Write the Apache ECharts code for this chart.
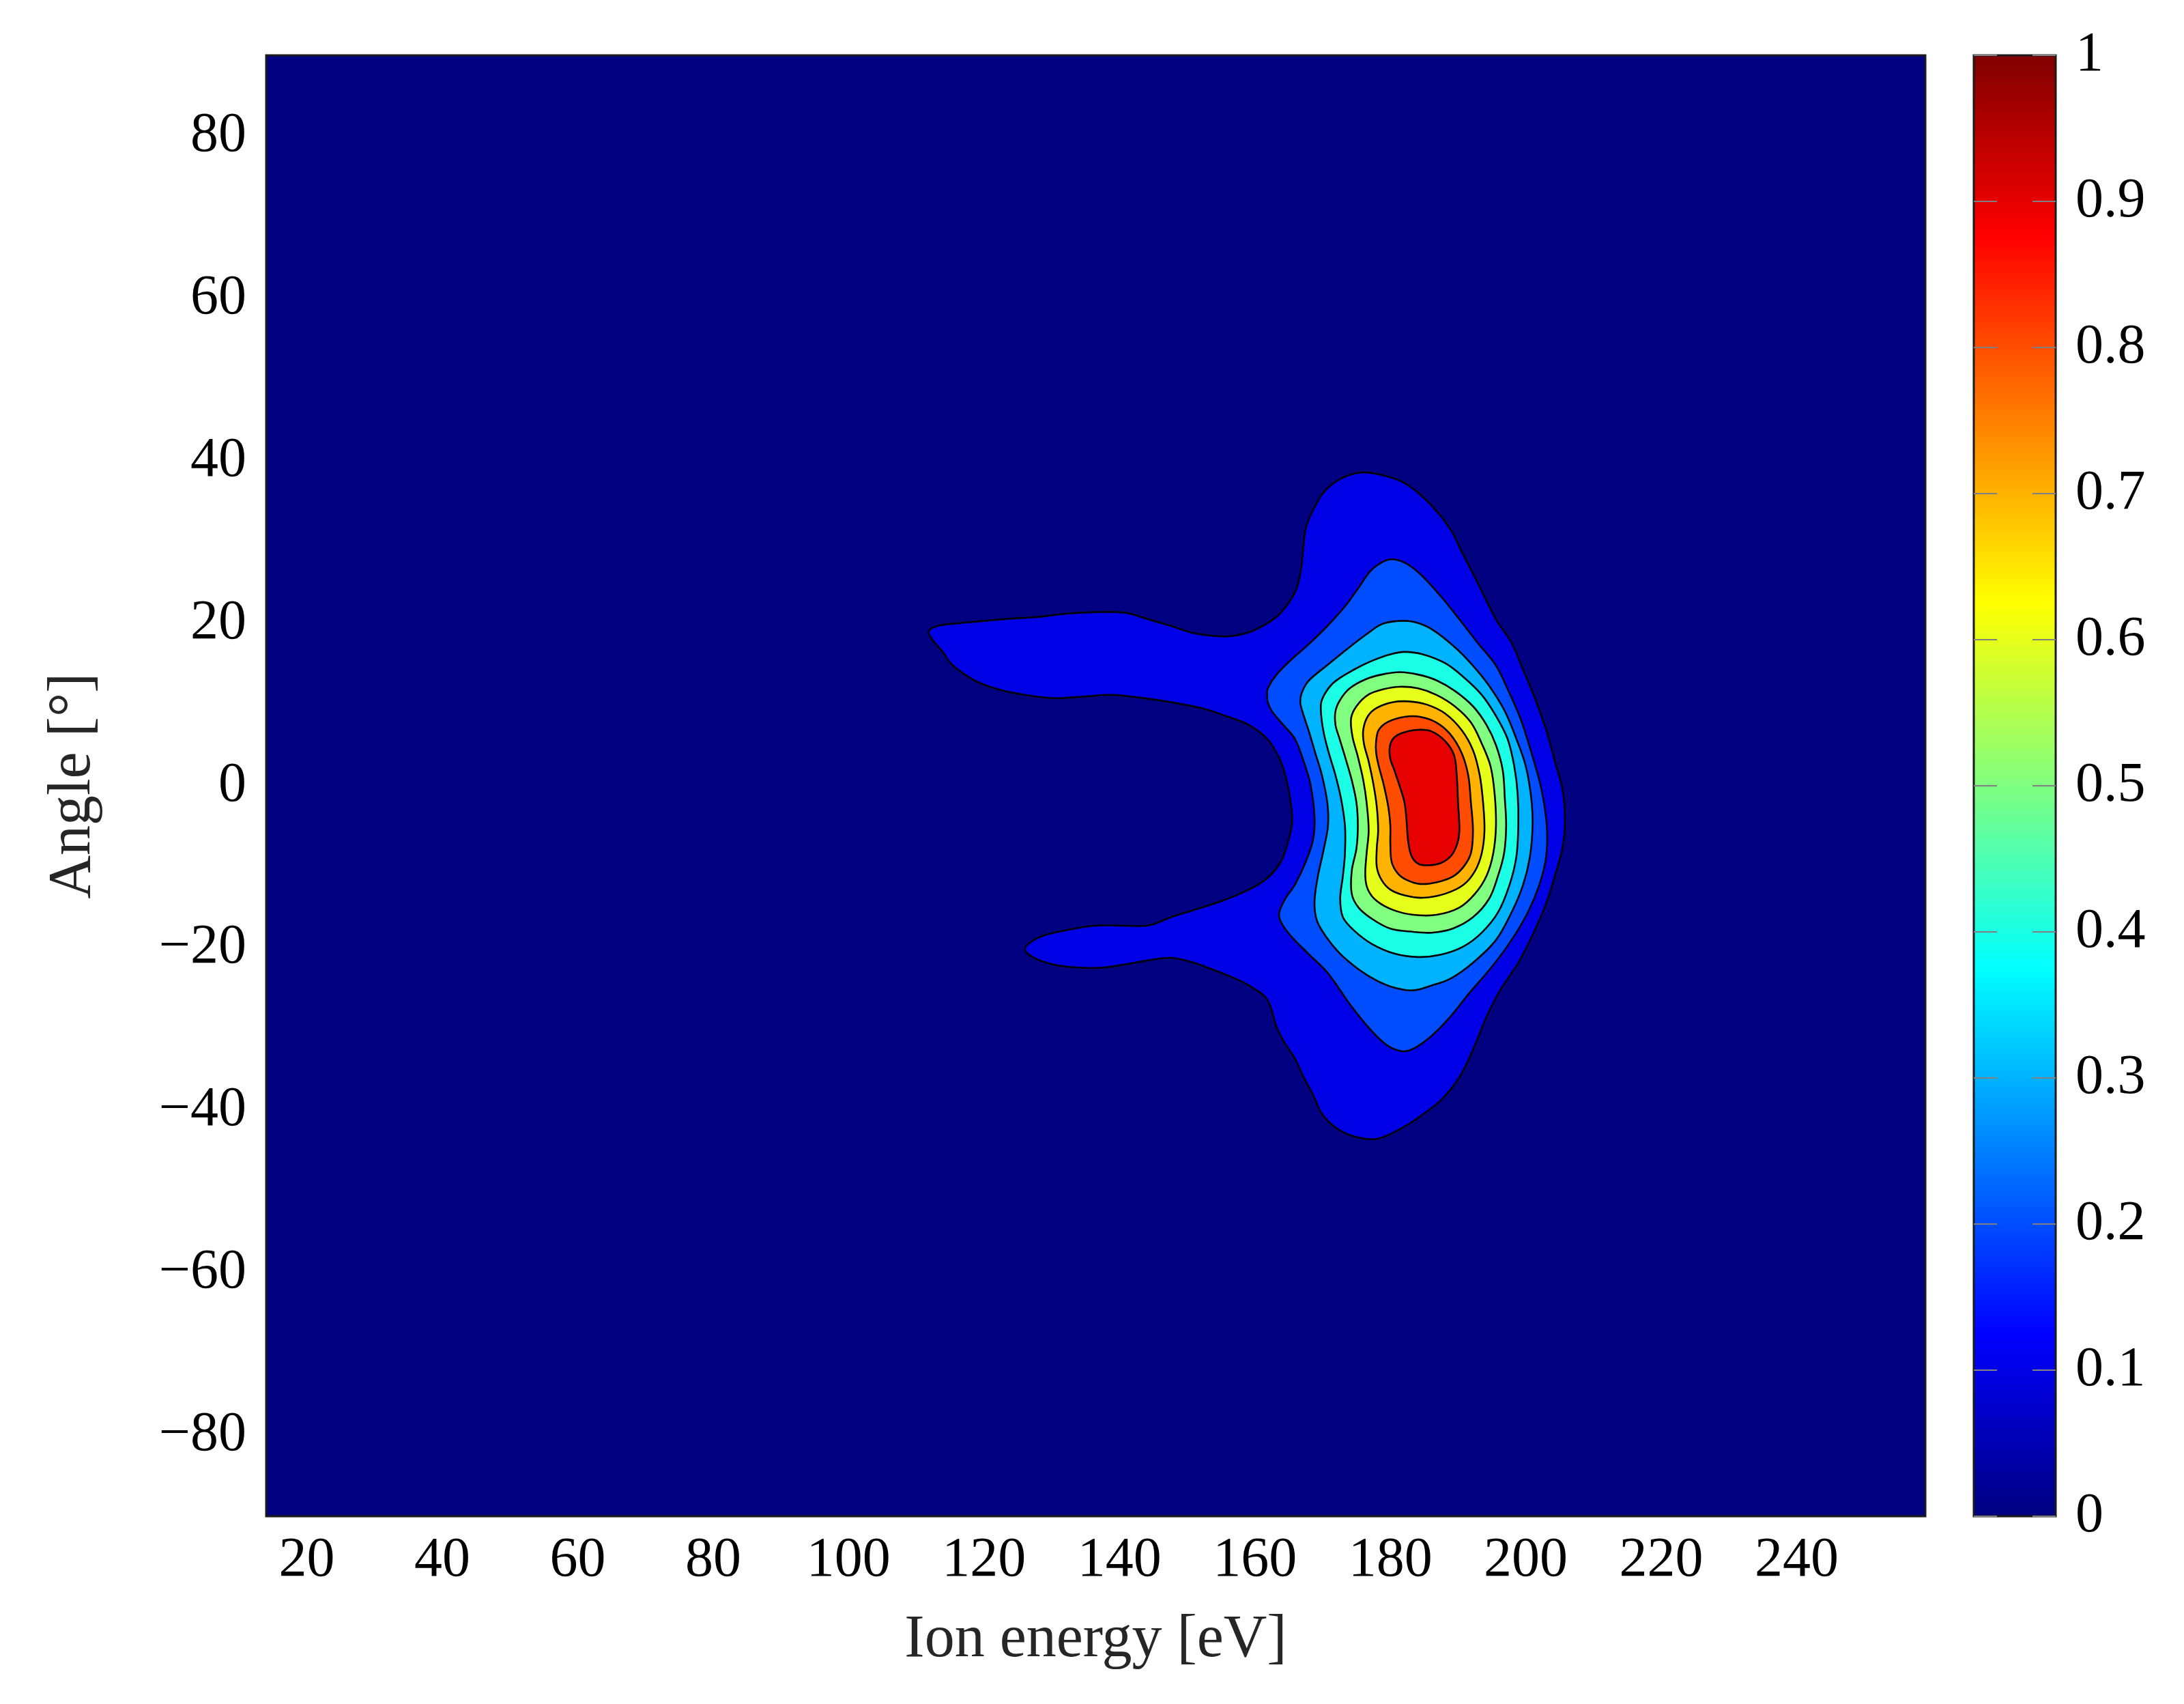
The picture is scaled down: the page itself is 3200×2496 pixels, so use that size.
<!DOCTYPE html>
<html>
<head>
<meta charset="utf-8">
<title>Ion energy / angle distribution</title>
<script src="https://cdn.jsdelivr.net/npm/echarts@6/dist/echarts.min.js"></script>
<style>
  html, body { margin: 0; padding: 0; background: #fff; }
  #chart { width: 3200px; height: 2496px; }
</style>
</head>
<body>
<div id="chart"></div>
<script>
// axis ranges and tick labels
const energyRange = [14, 259]
const angleRange = [-90, 90]
const energyTicks = [20, 40, 60, 80, 100, 120, 140, 160, 180, 200, 220, 240]
const angleTicks = [-80, -60, -40, -20, 0, 20, 40, 60, 80]
const colorTicks = [0, 0.1, 0.2, 0.3, 0.4, 0.5, 0.6, 0.7, 0.8, 0.9, 1]

// contour levels (region above each level is filled with the colour of that level)
const levels = [0.1, 0.2, 0.3, 0.4, 0.5, 0.6, 0.7, 0.8, 0.9]

// contour outlines, [ion energy eV, angle deg]
const contour01 = [
  [111.8, 19.0], [113.2, 19.7], [115.9, 20.0], [119.9, 20.3], [124.0, 20.6], [128.0, 20.8],
  [132.1, 21.2], [136.8, 21.4], [140.9, 21.3], [144.3, 20.5], [147.6, 19.7], [151.0, 18.8],
  [155.7, 18.4], [159.1, 18.9], [161.8, 20.0], [163.8, 21.3], [165.9, 23.8], [166.7, 26.1],
  [167.1, 28.9], [167.5, 31.7], [168.6, 34.0], [170.2, 36.2], [172.6, 37.8], [175.6, 38.6],
  [178.7, 38.3], [182.1, 37.3], [185.4, 35.1], [188.8, 31.7], [190.5, 28.9], [192.9, 25.0],
  [195.6, 20.5], [197.9, 17.6], [199.6, 14.3], [201.3, 10.9], [203.0, 6.9], [204.3, 3.0],
  [205.4, -0.4], [205.8, -4.3], [205.4, -7.7], [204.3, -11.1], [203.0, -14.5], [201.0, -18.4],
  [198.9, -21.8], [196.2, -25.2], [194.2, -28.5], [192.2, -32.5], [190.2, -35.9], [187.5, -38.7],
  [184.1, -40.9], [181.4, -42.3], [178.0, -43.5], [174.6, -43.2], [171.9, -42.1], [169.9, -40.4],
  [168.6, -38.1], [167.2, -35.9], [165.9, -33.6], [164.2, -31.4], [163.2, -29.7], [161.8, -26.3],
  [159.1, -24.6], [156.4, -23.5], [153.0, -22.4], [151.0, -21.8], [147.6, -21.2], [144.3, -21.5],
  [140.9, -22.0], [137.5, -22.4], [134.1, -22.4], [130.7, -22.1], [127.4, -21.2], [126.0, -20.1],
  [127.4, -19.0], [129.4, -18.3], [132.1, -17.8], [135.5, -17.3], [138.8, -17.2], [144.3, -17.2],
  [147.6, -16.2], [151.0, -15.3], [155.1, -14.2], [159.1, -12.8], [161.8, -11.4], [163.8, -9.4],
  [165.0, -6.6], [165.5, -4.3], [165.2, -1.5], [164.5, 1.3], [163.5, 3.6], [161.8, 5.8],
  [159.1, 7.5], [155.7, 8.6], [152.4, 9.5], [147.6, 10.3], [143.6, 10.8], [138.8, 11.2],
  [134.8, 11.0], [130.1, 10.8], [125.3, 11.3], [122.0, 11.9], [119.3, 12.7], [117.2, 13.7],
  [115.2, 15.0], [113.9, 16.5], [112.5, 17.9]
]
const contour02 = [
  [161.8, 11.2], [161.9, 12.0], [163.2, 13.7], [165.2, 15.4], [167.9, 17.4], [170.6, 19.6],
  [173.3, 22.1], [175.3, 24.4], [177.0, 26.4], [178.3, 27.3], [180.0, 27.9], [182.1, 27.5],
  [184.4, 26.1], [187.5, 23.3], [190.2, 20.5], [192.9, 17.6], [195.6, 14.8], [197.6, 11.4],
  [199.3, 8.1], [201.0, 3.6], [202.3, -0.4], [203.1, -4.9], [203.0, -8.8], [202.0, -12.2],
  [200.3, -15.6], [197.9, -19.0], [194.9, -22.4], [191.5, -25.7], [188.8, -28.5], [186.1, -30.8],
  [183.4, -32.4], [181.7, -32.7], [179.4, -31.9], [176.7, -29.7], [174.0, -26.9], [172.6, -25.2],
  [170.6, -22.9], [167.9, -20.7], [165.2, -18.4], [163.8, -16.7], [163.6, -15.6], [164.5, -13.9],
  [165.9, -12.2], [167.5, -9.4], [168.6, -6.6], [168.8, -3.8], [168.2, 0.2], [167.2, 3.0],
  [165.9, 5.8], [164.2, 7.5], [162.5, 9.2], [161.9, 10.3]
]
const contour03 = [
  [166.9, 11.4], [167.9, 12.9], [170.6, 14.8], [174.0, 17.1], [176.7, 18.8], [178.7, 19.9],
  [181.1, 20.3], [183.4, 20.2], [186.1, 19.3], [189.5, 17.1], [192.2, 14.8], [194.6, 12.3],
  [196.9, 9.2], [198.6, 5.8], [200.0, 2.4], [200.8, -1.5], [201.0, -4.9], [200.6, -8.8],
  [199.6, -12.2], [197.9, -15.6], [195.6, -19.0], [192.2, -21.8], [188.8, -23.8], [186.1, -24.6],
  [183.4, -25.2], [180.7, -24.9], [178.0, -24.0], [175.3, -22.6], [172.6, -20.7], [170.6, -18.7],
  [169.2, -16.7], [168.8, -14.5], [169.2, -11.6], [170.2, -7.7], [170.8, -4.9], [170.7, -2.1],
  [169.9, 1.3], [168.9, 4.1], [167.9, 6.9], [167.0, 9.2], [166.7, 10.3]
]
const contour04 = [
  [169.8, 10.3], [170.6, 11.7], [171.9, 12.9], [174.6, 14.3], [177.3, 15.4], [180.0, 16.2],
  [182.1, 16.5], [184.8, 16.2], [188.1, 15.1], [190.8, 13.4], [193.5, 11.2], [195.6, 8.6],
  [197.3, 5.8], [198.3, 2.4], [198.8, -1.0], [198.9, -4.9], [198.6, -8.8], [197.6, -12.2],
  [195.9, -15.6], [193.5, -18.1], [190.8, -19.8], [187.5, -20.8], [184.1, -21.1], [180.7, -20.7],
  [177.3, -19.5], [174.6, -17.8], [173.0, -16.2], [172.6, -13.9], [173.0, -11.1], [173.3, -8.3],
  [173.3, -4.9], [172.7, -1.5], [171.9, 1.3], [170.9, 4.1], [170.2, 6.4], [169.8, 8.6]
]
const contour05 = [
  [171.9, 9.2], [172.6, 10.6], [174.0, 12.0], [176.3, 13.1], [178.7, 13.7], [181.4, 14.0],
  [184.1, 13.7], [186.8, 13.0], [189.5, 11.7], [192.2, 9.8], [194.2, 7.5], [195.6, 5.0],
  [196.6, 1.9], [196.9, -1.5], [197.1, -4.9], [196.8, -8.3], [195.9, -11.1], [194.6, -13.9],
  [192.2, -16.2], [189.2, -17.6], [186.1, -18.1], [183.4, -18.0], [180.0, -17.6], [177.3, -16.4],
  [175.3, -15.0], [174.3, -13.3], [174.3, -10.5], [175.0, -7.7], [175.2, -4.9], [175.0, -2.1],
  [174.3, 0.7], [173.3, 3.6], [172.5, 5.8], [171.9, 7.5]
]
const contour06 = [
  [174.2, 8.3], [175.0, 9.8], [176.7, 11.2], [179.0, 11.9], [181.4, 12.2], [184.1, 12.0],
  [186.8, 11.2], [189.5, 9.8], [191.9, 7.8], [193.5, 5.2], [194.8, 2.4], [195.4, -1.0],
  [195.6, -4.9], [195.2, -8.3], [194.2, -11.1], [192.5, -13.3], [190.2, -15.0], [186.8, -15.9],
  [183.4, -15.9], [180.4, -15.3], [178.0, -14.2], [176.7, -12.8], [176.3, -11.1], [176.5, -8.3],
  [176.8, -5.5], [176.5, -2.1], [176.0, 0.7], [175.2, 3.6], [174.4, 6.1]
]
const contour07 = [
  [176.0, 6.9], [176.7, 8.6], [178.0, 9.6], [180.4, 10.3], [182.7, 10.4], [185.4, 10.0],
  [188.1, 8.9], [190.5, 6.9], [192.2, 4.4], [193.2, 1.3], [193.7, -2.1], [193.9, -5.5],
  [193.5, -8.3], [192.5, -10.5], [190.8, -12.2], [188.1, -13.3], [184.8, -13.8], [182.1, -13.5],
  [180.0, -12.8], [178.7, -11.6], [178.0, -10.0], [178.0, -7.7], [178.2, -5.5], [178.0, -2.6],
  [177.5, 0.2], [176.8, 3.0], [176.1, 5.2]
]
const contour08 = [
  [177.9, 5.5], [178.3, 6.9], [179.7, 7.9], [182.1, 8.5], [184.4, 8.5], [186.8, 7.8],
  [188.8, 6.4], [190.5, 4.1], [191.5, 1.3], [191.9, -2.1], [192.2, -5.5], [191.9, -8.3],
  [190.8, -10.0], [189.2, -11.2], [186.8, -11.9], [184.4, -12.1], [182.4, -11.6], [181.1, -10.8],
  [180.2, -9.4], [180.0, -7.1], [180.0, -4.9], [179.7, -2.6], [179.0, 0.2], [178.3, 2.4],
  [177.9, 4.1]
]
const contour09 = [
  [179.9, 4.7], [180.4, 5.8], [181.7, 6.5], [184.1, 6.9], [186.1, 6.7], [188.1, 5.5],
  [189.4, 3.8], [189.8, 1.3], [190.0, -2.1], [190.2, -5.5], [189.9, -7.1], [189.0, -8.6],
  [187.5, -9.5], [185.6, -9.8], [184.1, -9.6], [183.1, -8.6], [182.6, -6.6], [182.4, -4.3],
  [182.1, -2.1], [181.4, -0.1], [180.6, 1.9], [180.0, 3.3]
]
const contours = [contour01, contour02, contour03, contour04, contour05,
                  contour06, contour07, contour08, contour09]

// pgfplots "jet" colormap
const jetStops = [
  [0, [0, 0, 128]], [1 / 8, [0, 0, 255]], [3 / 8, [0, 255, 255]],
  [5 / 8, [255, 255, 0]], [7 / 8, [255, 0, 0]], [1, [128, 0, 0]]
]
const jet = (v) => {
  for (let i = 1; i < jetStops.length; i++) {
    const [t0, c0] = jetStops[i - 1]
    const [t1, c1] = jetStops[i]
    if (v <= t1) {
      const f = (v - t0) / (t1 - t0)
      const c = c0.map((a, k) => Math.round(a + (c1[k] - a) * f))
      return `rgb(${c[0]},${c[1]},${c[2]})`
    }
  }
  return 'rgb(128,0,0)'
}

const chart = echarts.init(document.getElementById('chart'))

const FONT = 'Liberation Serif'
const minus = (v) => (v < 0 ? '\u2212' + Math.abs(v) : String(v))
const TICK_LEN = 34

const option = {
  backgroundColor: '#fff',
  animation: false,
  grid: [
    { left: 390, top: 81, width: 2431, height: 2140, show: true,
      backgroundColor: jet(0), borderColor: '#1a1a1a', borderWidth: 3 },
    { left: 2892, top: 81, width: 120, height: 2140 }
  ],
  xAxis: [
    {
      gridIndex: 0, type: 'value', min: energyRange[0], max: energyRange[1],
      name: 'Ion energy [eV]', nameLocation: 'middle', nameGap: 138,
      nameTextStyle: { fontFamily: FONT, fontSize: 88, color: '#262626' },
      axisLine: { show: false }, axisTick: { show: false }, splitLine: { show: false },
      axisLabel: { customValues: energyTicks, fontFamily: FONT, fontSize: 82, color: '#000', margin: 24 }
    },
    { gridIndex: 1, type: 'value', min: 0, max: 1, show: false }
  ],
  yAxis: [
    {
      gridIndex: 0, type: 'value', min: angleRange[0], max: angleRange[1],
      name: 'Angle [°]', nameLocation: 'middle', nameGap: 238,
      nameTextStyle: { fontFamily: FONT, fontSize: 88, color: '#262626' },
      axisLine: { show: false }, axisTick: { show: false }, splitLine: { show: false },
      axisLabel: { customValues: angleTicks, formatter: minus, fontFamily: FONT, fontSize: 82, color: '#000', margin: 29 }
    },
    {
      gridIndex: 1, type: 'value', min: 0, max: 1, position: 'right',
      axisLine: { show: false }, splitLine: { show: false }, axisTick: { show: false },
      axisLabel: { customValues: colorTicks, fontFamily: FONT, fontSize: 82, color: '#000', margin: 29 }
    }
  ],
  series: [
    {
      // filled contour bands
      type: 'custom',
      xAxisIndex: 0,
      yAxisIndex: 0,
      clip: true,
      data: levels.map((lv, i) => [i, lv]),
      renderItem: (params, api) => {
        const i = params.dataIndex
        const pts = contours[i].map((p) => api.coord(p))
        return {
          type: 'polygon',
          z2: i,
          shape: { points: pts, smooth: 0.35 },
          style: { fill: jet(levels[i]), stroke: '#000', lineWidth: 2.6 }
        }
      }
    },
    {
      // colour bar with its tick marks on both edges
      type: 'custom',
      xAxisIndex: 1,
      yAxisIndex: 1,
      data: [[0, 0]],
      renderItem: (params, api) => {
        const a = api.coord([0, 1])
        const b = api.coord([1, 0])
        const ticks = []
        colorTicks.forEach((t) => {
          const y = api.coord([0, t])[1]
          ticks.push({ type: 'line', z2: 5, shape: { x1: a[0], y1: y, x2: a[0] + TICK_LEN, y2: y },
            style: { stroke: '#808080', lineWidth: 2 } })
          ticks.push({ type: 'line', z2: 5, shape: { x1: b[0] - TICK_LEN, y1: y, x2: b[0], y2: y },
            style: { stroke: '#808080', lineWidth: 2 } })
        })
        return {
          type: 'group',
          children: [
            {
              type: 'rect',
              z2: 1,
              shape: { x: a[0], y: a[1], width: b[0] - a[0], height: b[1] - a[1] },
              style: {
                fill: new echarts.graphic.LinearGradient(0, 1, 0, 0,
                  jetStops.map(([t]) => ({ offset: t, color: jet(t) }))),
                stroke: '#1a1a1a',
                lineWidth: 3
              }
            },
            ...ticks
          ]
        }
      }
    }
  ]
}

chart.setOption(option)
</script>
</body>
</html>
